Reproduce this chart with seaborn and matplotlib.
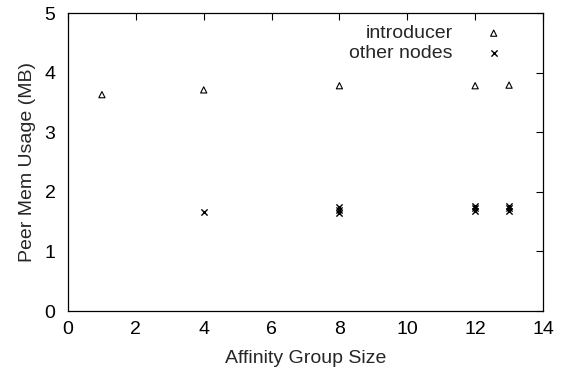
import matplotlib
matplotlib.use("Agg")
import matplotlib.pyplot as plt
import seaborn as sns
import pandas as pd

intro_x = [1, 4, 8, 12, 13]
intro_y = [3.63, 3.71, 3.78, 3.78, 3.79]
other_x = [4, 8, 8, 8, 12, 12, 12, 13, 13, 13]
other_y = [1.66, 1.65, 1.70, 1.74, 1.68, 1.73, 1.77, 1.68, 1.73, 1.77]

xticks = [0, 2, 4, 6, 8, 10, 12, 14]
yticks = [0, 1, 2, 3, 4, 5]

sns.set_theme(style="white")
plt.rcParams['font.family'] = ['Liberation Sans', 'DejaVu Sans']

fig = plt.figure(figsize=(5.65, 3.73), dpi=100)
ax = fig.add_axes([68/565, (373-311)/373, (543-68)/565, (311-13)/373])

df_i = pd.DataFrame({"x": intro_x, "y": intro_y})
df_o = pd.DataFrame({"x": other_x, "y": other_y})
sns.scatterplot(data=df_i, x="x", y="y", marker="^", s=20, facecolor="none",
                edgecolor="black", linewidth=0.8, label="introducer", ax=ax)
sns.scatterplot(data=df_o, x="x", y="y", marker="x", s=20, color="black",
                linewidth=1.0, label="other nodes", ax=ax)

ax.set_xlim(0, 14)
ax.set_ylim(0, 5)
ax.set_xticks(xticks)
ax.set_yticks(yticks)
ax.set_xlabel("Affinity Group Size", fontsize=14, labelpad=9)
ax.set_ylabel("Peer Mem Usage (MB)", fontsize=14, labelpad=6)
ax.tick_params(axis="x", pad=7)
ax.tick_params(axis="y", pad=9)
ax.tick_params(direction="in", length=5, width=0.8, top=True, right=True,
               labelsize=14, colors="black")
for sp in ax.spines.values():
    sp.set_color("black")
    sp.set_linewidth(0.9)
ax.legend(loc="upper right", bbox_to_anchor=(0.933, 0.987), frameon=False,
          markerfirst=False, fontsize=14, handletextpad=1.6, handlelength=1.0,
          borderaxespad=0.1, labelspacing=0.1, borderpad=0.3)

fig.savefig("out.png", dpi=100)
